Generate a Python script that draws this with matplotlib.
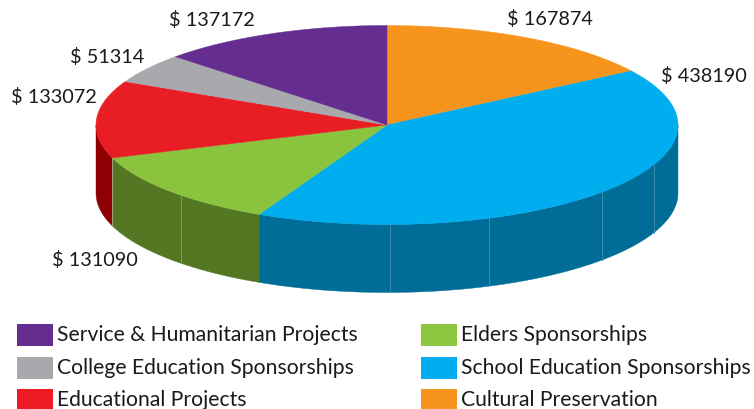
import numpy as np
import matplotlib
matplotlib.use("Agg")
import matplotlib.pyplot as plt
from matplotlib.patches import Polygon, Rectangle

# Slices, clockwise from 12 o'clock
categories = ["Cultural Preservation", "School Education Sponsorships", "Elders Sponsorships",
              "Educational Projects", "College Education Sponsorships", "Service & Humanitarian Projects"]
values = [167874, 438190, 131090, 133072, 51314, 137172]
top_colors = ["#F7941E", "#00ADEE", "#8AC43F", "#E91E25", "#A7A9AC", "#662D91"]
side_colors = ["#A8620F", "#006D99", "#537723", "#8E0004", "#6A6B6E", "#3E1B58"]
legend_left = ["Service & Humanitarian Projects", "College Education Sponsorships", "Educational Projects"]
legend_right = ["Elders Sponsorships", "School Education Sponsorships", "Cultural Preservation"]
legend_colors = {"Service & Humanitarian Projects": "#662D91", "College Education Sponsorships": "#A7A9AC",
                 "Educational Projects": "#ED1C24", "Elders Sponsorships": "#8DC63F",
                 "School Education Sponsorships": "#00AEEF", "Cultural Preservation": "#F7941E"}
value_label_pos = {"Cultural Preservation": (507, 19), "School Education Sponsorships": (661, 76),
                   "Elders Sponsorships": (52, 260), "Educational Projects": (11, 97),
                   "College Education Sponsorships": (70, 57), "Service & Humanitarian Projects": (169, 20)}
seam_x = [181, 390, 489, 601.5, 653.5]

plt.rcParams["font.family"] = ["Lato", "DejaVu Sans"]
W, H = 754, 410
fig = plt.figure(figsize=(W / 100, H / 100), dpi=100)
ax = fig.add_axes([0, 0, 1, 1])
ax.set_xlim(0, W)
ax.set_ylim(H, 0)
ax.axis("off")

cx, cy, rx, ry, depth = 387, 126.0, 291, 99.5, 68


def pt(theta):
    """theta in radians clockwise from the top of the ellipse."""
    return cx + rx * np.sin(theta), cy - ry * np.cos(theta)


angles = np.concatenate([[0], np.cumsum(values) / np.sum(values) * 2 * np.pi])

# Side walls (only the front half of the rim is visible)
for i, col in enumerate(side_colors):
    a0, a1 = max(angles[i], np.pi / 2), min(angles[i + 1], 3 * np.pi / 2)
    if a1 <= a0:
        continue
    t = np.linspace(a0, a1, 200)
    x, y = pt(t)
    verts = np.vstack([np.c_[x, y], np.c_[x[::-1], y[::-1] + depth]])
    ax.add_patch(Polygon(verts, closed=True, facecolor=col, edgecolor=col, lw=0.3, zorder=2))

# Faint seams on the wall
for sx in seam_x:
    yy = cy + ry * np.sqrt(1 - ((sx - cx) / rx) ** 2)
    seam_col = "#7F9F5E" if sx < 260 else "#3C8DB0"
    ax.plot([sx, sx], [yy, yy + depth], color=seam_col, lw=0.7, zorder=3)
bx, by = pt(angles[3])
ax.plot([bx, bx], [by, by + depth], color="#A9A08C", lw=0.7, zorder=3)

# Top face
for i, col in enumerate(top_colors):
    t = np.linspace(angles[i], angles[i + 1], 300)
    x, y = pt(t)
    verts = np.vstack([[cx, cy], np.c_[x, y]])
    ax.add_patch(Polygon(verts, closed=True, facecolor=col, edgecolor=col, lw=0.3, zorder=4))

# Value labels
for cat, val in zip(categories, values):
    lx, ly = value_label_pos[cat]
    ax.text(lx, ly, f"$ {val}", fontsize=14.3, color="#1A1A1A", ha="left", va="center", zorder=5)

# Legend
rows_y = [335, 368, 400]
for names, bx0, tx in [(legend_left, 17, 57), (legend_right, 421, 461)]:
    for name, yy in zip(names, rows_y):
        h = 22 if yy != 400 else 20
        ax.add_patch(Rectangle((bx0, yy - 10), 36, h, facecolor=legend_colors[name], edgecolor="none", zorder=4))
        ax.text(tx, yy, name, fontsize=15.2, color="#1A1A1A", ha="left", va="center", zorder=5)

fig.savefig("out.png", dpi=100, facecolor="white")
